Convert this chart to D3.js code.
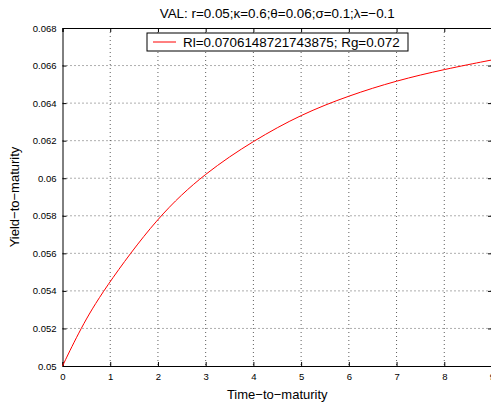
<!DOCTYPE html>
<html>
<head>
<meta charset="utf-8">
<script src="https://cdn.jsdelivr.net/npm/d3@7"></script>
<style>
  body { margin: 0; background: #fff; }
  text { font-family: "Liberation Sans", Arial, sans-serif; fill: #000; }
</style>
</head>
<body>
<div id="chart"></div>
<script>
// values
var maturities = [0, 0.38, 0.84, 2, 3, 4, 5, 6, 7, 8, 9]
var yields = [0.05, 0.052, 0.054, 0.0580, 0.0603, 0.0620, 0.0634, 0.0644, 0.0652, 0.0658, 0.0663]
var xTicks = [0, 1, 2, 3, 4, 5, 6, 7, 8, 9]
var yTicks = [0.05, 0.052, 0.054, 0.056, 0.058, 0.06, 0.062, 0.064, 0.066, 0.068]
var titleText = "VAL: r=0.05;\u03ba=0.6;\u03b8=0.06;\u03c3=0.1;\u03bb=\u22120.1"
var legendText = "Rl=0.0706148721743875; Rg=0.072"

var data = maturities.map(function (t, i) { return { t: t, y: yields[i] } })

var W = 491, H = 409
var margin = { top: 28, right: -1, bottom: 43, left: 62.5 },
    width = W - margin.left - margin.right,
    height = H - margin.top - margin.bottom

var svg = d3.select("#chart").append("svg")
    .attr("width", W)
    .attr("height", H)
var g = svg.append("g")
    .attr("transform", "translate(" + margin.left + "," + margin.top + ")")

var x = d3.scaleLinear().domain([0, 9]).range([0, width])
var y = d3.scaleLinear().domain([0.05, 0.068]).range([height, 0])

// grid
g.append("g").selectAll("line")
    .data(xTicks.slice(1, -1))
    .enter().append("line")
    .attr("x1", function (d) { return x(d) }).attr("x2", function (d) { return x(d) })
    .attr("y1", 0).attr("y2", height)
    .attr("stroke", "#333").attr("stroke-width", 0.8)
    .attr("stroke-dasharray", "1,3")
g.append("g").selectAll("line")
    .data(yTicks.slice(1, -1))
    .enter().append("line")
    .attr("y1", function (d) { return y(d) }).attr("y2", function (d) { return y(d) })
    .attr("x1", 0).attr("x2", width)
    .attr("stroke", "#333").attr("stroke-width", 0.8)
    .attr("stroke-dasharray", "1,3")

var fmt = function (d) { return String(+d.toFixed(3)) }

// axes, ticks pointing inwards
var xAxis = g.append("g")
    .attr("transform", "translate(0," + height + ")")
    .call(d3.axisBottom(x).tickValues(xTicks).tickSize(-4).tickPadding(7).tickFormat(d3.format("d")))
var xTop = g.append("g")
    .call(d3.axisTop(x).tickValues(xTicks).tickSize(-4).tickFormat(""))
var yAxis = g.append("g")
    .call(d3.axisLeft(y).tickValues(yTicks).tickSize(-4).tickPadding(6).tickFormat(fmt))
var yRight = g.append("g")
    .attr("transform", "translate(" + width + ",0)")
    .call(d3.axisRight(y).tickValues(yTicks).tickSize(-4).tickFormat(""))

;[xAxis, xTop, yAxis, yRight].forEach(function (a) {
    a.selectAll("path").attr("stroke", "#000").attr("stroke-width", 1)
    a.selectAll("line").attr("stroke", "#000")
    a.selectAll("text").style("font-family", "Liberation Sans, Arial, sans-serif")
        .style("font-size", "9.5px").attr("fill", "#000")
})

// the curve (basis smooths out reading noise)
var line = d3.line()
    .x(function (d) { return x(d.t) })
    .y(function (d) { return y(d.y) })
    .curve(d3.curveBasis)
g.append("path")
    .datum(data)
    .attr("fill", "none")
    .attr("stroke", "#ff0000")
    .attr("stroke-width", 1)
    .attr("d", line)

// legend
var legend = svg.append("g").attr("transform", "translate(147,33)")
legend.append("rect")
    .attr("width", 261).attr("height", 18)
    .attr("fill", "#fff").attr("stroke", "#000").attr("stroke-width", 1)
legend.append("line")
    .attr("x1", 6).attr("x2", 29).attr("y1", 9).attr("y2", 9)
    .attr("stroke", "#ff0000").attr("stroke-width", 1)
legend.append("text")
    .attr("x", 36).attr("y", 13.8)
    .style("font-size", "13.4px")
    .text(legendText)

// title and labels
svg.append("text")
    .attr("x", margin.left + width / 2).attr("y", 18)
    .attr("text-anchor", "middle")
    .style("font-size", "13.4px")
    .text(titleText)
svg.append("text")
    .attr("x", margin.left + width / 2).attr("y", 399)
    .attr("text-anchor", "middle")
    .style("font-size", "13px")
    .text("Time\u2212to\u2212maturity")
svg.append("text")
    .attr("transform", "translate(19," + (margin.top + height / 2) + ") rotate(-90)")
    .attr("text-anchor", "middle")
    .style("font-size", "13px")
    .text("Yield\u2212to\u2212maturity")
</script>
</body>
</html>
